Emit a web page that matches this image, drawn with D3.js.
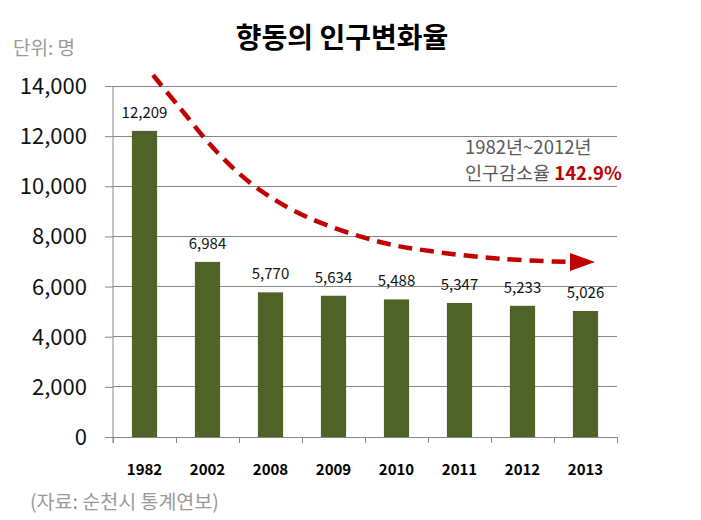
<!DOCTYPE html>
<html><head><meta charset="utf-8">
<script src="https://cdn.jsdelivr.net/npm/d3@7"></script>
<style>body{margin:0;background:#fff}svg{display:block}text{font-family:"Noto Sans CJK KR","Noto Sans",sans-serif}</style>
</head><body><svg id="c" width="701" height="520"></svg>
<script>
const years = ["1982","2002","2008","2009","2010","2011","2012","2013"];
const population = [12209, 6984, 5770, 5634, 5488, 5347, 5233, 5026];
const yTicks = [0, 2000, 4000, 6000, 8000, 10000, 12000, 14000];
// trend arrow path, in (category-position, value) units
const trendPos = [0.635, 1.063, 1.651, 2.286, 3.079, 4.238, 5.143, 6.190, 7.254];
const trendVal = [14439, 13123, 11368, 9932, 8775, 7777, 7379, 7100, 6980];

const svg = d3.select("#c");
const L = 113, R = 617, T = 86, B = 437;
const x = d3.scaleBand().domain(years).range([L, R]).paddingInner(0.6).paddingOuter(0.3);
const xb = d3.scaleLinear().domain([0, years.length]).range([L, R]);
const y = d3.scaleLinear().domain([0, 14000]).range([B, T]);
const grid = "#868686";

// gridlines
svg.append("g").selectAll("line").data(yTicks.filter(d => d > 0)).join("line")
  .attr("x1", L).attr("x2", R).attr("y1", d => y(d)).attr("y2", d => y(d))
  .attr("stroke", grid).attr("stroke-width", 1).attr("shape-rendering", "crispEdges");

// y axis
const ya = svg.append("g").attr("transform", `translate(${L},0)`)
  .call(d3.axisLeft(y).tickValues(yTicks).tickSize(8).tickPadding(18).tickFormat(d3.format(",")));
ya.select(".domain").attr("stroke", grid).attr("d", `M0,${T}V${B + 6}`);
ya.selectAll(".tick line").attr("stroke", grid);
ya.selectAll("text").attr("font-size", 22).attr("fill", "#111").attr("font-family", "\"Noto Sans\",sans-serif").attr("dy", "0.34em");

// x axis
const xa = svg.append("g").attr("transform", `translate(0,${B})`);
xa.append("line").attr("x1", L).attr("x2", R).attr("stroke", grid).attr("shape-rendering", "crispEdges");
xa.selectAll("line.t").data(d3.range(years.length + 1)).join("line").attr("class", "t")
  .attr("x1", d => xb(d)).attr("x2", d => xb(d)).attr("y1", 0).attr("y2", 6)
  .attr("stroke", grid).attr("shape-rendering", "crispEdges");
xa.selectAll("text").data(years).join("text")
  .attr("x", d => x(d) + x.bandwidth() / 2).attr("y", 38)
  .attr("text-anchor", "middle").attr("font-size", 15).attr("font-weight", "bold")
  .attr("font-family", "\"Noto Sans\",sans-serif").attr("fill", "#000").text(d => d);

// bars
svg.append("g").selectAll("rect").data(years).join("rect")
  .attr("x", d => x(d)).attr("width", x.bandwidth())
  .attr("y", (d, i) => y(population[i])).attr("height", (d, i) => B - y(population[i]))
  .attr("fill", "#4f6228");

// value labels
svg.append("g").selectAll("text").data(years).join("text")
  .attr("x", d => x(d) + x.bandwidth() / 2).attr("y", (d, i) => y(population[i]) - 13)
  .attr("text-anchor", "middle").attr("font-size", 15).attr("fill", "#111")
  .attr("font-family", "\"Noto Sans\",sans-serif")
  .text((d, i) => d3.format(",")(population[i]));

// trend arrow
const pts = trendPos.map((p, i) => [xb(p), y(trendVal[i])]);
svg.append("path").attr("d", d3.line().curve(d3.curveCatmullRom)(pts))
  .attr("fill", "none").attr("stroke", "#c00000").attr("stroke-width", 4.5)
  .attr("stroke-dasharray", "14,8");
const last = pts[pts.length - 1];
const tipX = xb(7.65);
svg.append("path")
  .attr("d", `M${last[0]},${last[1] - 9}L${tipX},${last[1]}L${last[0]},${last[1] + 9}Z`)
  .attr("fill", "#c00000");

// title & notes
svg.append("text").attr("x", 342).attr("y", 48).attr("text-anchor", "middle")
  .attr("font-size", 28).attr("font-weight", "bold").attr("fill", "#000").text("향동의 인구변화율");
svg.append("text").attr("x", 13).attr("y", 55).attr("font-size", 19).attr("fill", "#999").text("단위: 명");
svg.append("text").attr("x", 465).attr("y", 154).attr("font-size", 18.5).attr("fill", "#595959").text("1982년~2012년");
const t2 = svg.append("text").attr("x", 465).attr("y", 180).attr("font-size", 18.5).attr("fill", "#595959");
t2.append("tspan").text("인구감소율 ");
t2.append("tspan").attr("fill", "#c00000").attr("font-weight", "bold").text("142.9%");
svg.append("text").attr("x", 30).attr("y", 509).attr("font-size", 19.5).attr("fill", "#999").text("(자료: 순천시 통계연보)");
</script></body></html>
